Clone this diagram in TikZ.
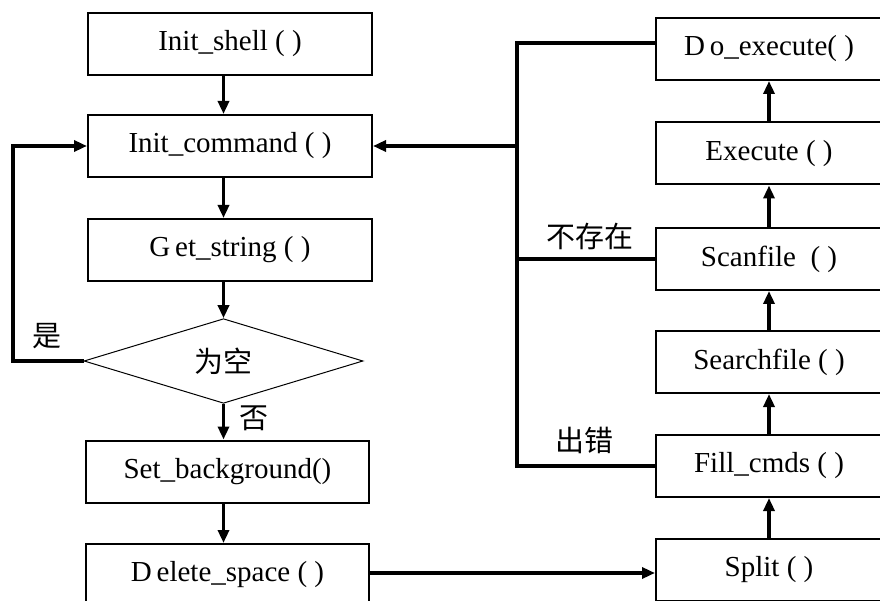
\documentclass[tikz,border=0pt]{standalone}
\usepackage{fontspec}
\setmainfont{Liberation Serif}
\newfontfamily\cjk{Noto Sans CJK SC}
\usetikzlibrary{arrows.meta,shapes.geometric,calc}

\begin{document}
\begin{tikzpicture}[x=1pt,y=-1pt,
        caja/.style={draw, line width=2pt, minimum height=62pt, inner sep=0pt,
            font=\fontsize{29}{32}\selectfont},
        cizq/.style={caja, minimum width=284pt},
        cder/.style={caja, minimum width=226pt},
        rombo/.style={diamond, draw, line width=1pt, minimum width=279pt,
            minimum height=76pt, inner sep=0pt, font=\cjk\fontsize{29}{32}\selectfont},
        flecha/.style={line width=3.4pt, -{Triangle[length=13pt,width=11pt]}},
        linea/.style={line width=3.4pt},
        etiq/.style={font=\cjk\fontsize{29}{32}\selectfont, inner sep=0pt}]

        % Marco
        \useasboundingbox (0,0) rectangle (880,601);
        \clip (0,0) rectangle (880,601);

        % Columna izquierda
        \node[cizq] (shell) at (230,44) {Init\_shell ( )};
        \node[cizq] (cmd) at (230,146) {Init\_command ( )};
        \node[cizq] (getstr) at (230,250) {G\,et\_string ( )};
        \node[rombo] (vacio) at (223.5,361) {为空};
        \node[cizq, minimum width=283pt] (setbg) at (227.5,471.5) {Set\_background()};
        \node[cizq, minimum width=283pt] (del) at (227.5,575) {D\,elete\_space ( )};

        % Columna derecha
        \node[cder] (doexe) at (769,49) {D\,o\_execute( )};
        \node[cder] (exe) at (769,153.5) {Execute ( )};
        \node[cder] (scan) at (769,259) {Scanfile\ \ ( )};
        \node[cder] (search) at (769,362) {Searchfile ( )};
        \node[cder] (fill) at (769,466) {Fill\_cmds ( )};
        \node[cder] (split) at (769,570) {Split ( )};

        % Puntos de paso
        \coordinate (izq) at (13,361);
        \coordinate (bus) at (517,43);

        % Flujo principal
        \draw[flecha] (shell.south -| vacio) -- (cmd.north -| vacio);
        \draw[flecha] (cmd.south -| vacio) -- (getstr.north -| vacio);
        \draw[flecha] (getstr.south -| vacio) -- (vacio.north);
        \draw[flecha] (vacio.south) -- (setbg.north -| vacio)
            node[etiq, pos=0.4, right=14pt] {否};
        \draw[flecha] (setbg.south -| vacio) -- (del.north -| vacio);

        % Vuelta si es vacio
        \draw[flecha] (vacio.west) -- (izq) |- (cmd.west);
        \node[etiq] (si) at (47,336) {是};

        % Hacia la derecha
        \draw[flecha] (del.east |- 0,573) -- (split.west |- 0,573);

        % Columna derecha hacia arriba
        \foreach \a/\b in {split/fill, fill/search, search/scan, scan/exe, exe/doexe}
            \draw[flecha] (\a.north) -- (\b.south);

        % Retorno a Init_command
        \draw[linea] (doexe.west |- bus) -- (bus) |- (fill.west);
        \draw[linea] (scan.west) -- (scan.west -| bus);
        \draw[flecha] (bus |- cmd.east) -- (cmd.east);
        \node[etiq] (noexiste) at (590,236) {不存在};
        \node[etiq] (error) at (584,440) {出错};

\end{tikzpicture}
\end{document}
